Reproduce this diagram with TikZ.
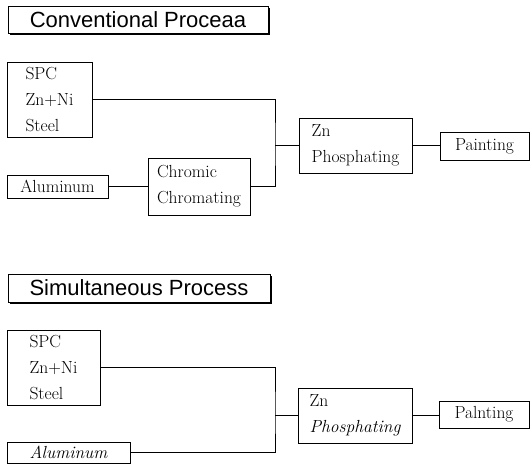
\documentclass[tikz,border=0pt]{standalone}
\usepackage{fontspec}
\usepackage{tikz}
\usetikzlibrary{shadows}
\newfontfamily\headfont{Liberation Sans}

\begin{document}
\begin{tikzpicture}[x=1pt,y=-1pt,line width=0.8pt,
  head/.style={draw,fill=white,font=\headfont\fontsize{22}{24}\selectfont,
    inner sep=0pt,minimum height=27pt,
    drop shadow={shadow xshift=2pt,shadow yshift=-2pt,fill=black,opacity=1}},
  unit/.style={draw,align=left,inner sep=0pt,font=\fontsize{17.5}{26}\selectfont}]
\useasboundingbox (0,0) rectangle (530,474);

% conventional
\node[head,minimum width=260pt] (title1) at (138,19.5) {Conventional Proceaa};
\node[unit,minimum width=85pt,minimum height=75pt] (spc1) at (49.5,99.5) {SPC\\Zn+Ni\\Steel};
\node[unit,minimum width=101pt,minimum height=23pt] (alu1) at (57.5,186.5) {Aluminum};
\node[unit,minimum width=102pt,minimum height=57pt] (chrom1) at (199,186.5) {Chromic\\Chromating};
\node[unit,minimum width=113pt,minimum height=55pt] (zn1) at (355.5,145.5) {Zn\\Phosphating};
\node[unit,minimum width=89pt,minimum height=28pt] (paint1) at (484.5,146) {Painting};
\coordinate (j1) at (275,145.5);
\draw (spc1.east) -| (j1) |- (chrom1.east);
\draw (alu1.east) -- (alu1.east -| chrom1.west);
\draw (j1) -- (zn1.west);
\draw (zn1.east) -- (zn1.east -| paint1.west);

% simultaneous
\node[head,minimum width=262pt,minimum height=28pt] (title2) at (139,288) {Simultaneous Process};
\node[unit,minimum width=93pt,minimum height=75pt] (spc2) at (53.5,367.5) {SPC\\Zn+Ni\\Steel};
\node[unit,minimum width=123pt,minimum height=21pt] (alu2) at (68.5,452.5) {\itshape Aluminum};
\node[unit,minimum width=114pt,minimum height=55pt] (zn2) at (355,415.5) {Zn\\\itshape Phosphating};
\node[unit,minimum width=90pt,minimum height=27pt] (paint2) at (484,414.5) {Palnting};
\coordinate (j2) at (275,415.5);
\draw (spc2.east) -| (j2) |- (alu2.east);
\draw (j2) -- (zn2.west);
\draw (zn2.east) -- (zn2.east -| paint2.west);
\end{tikzpicture}
\end{document}
